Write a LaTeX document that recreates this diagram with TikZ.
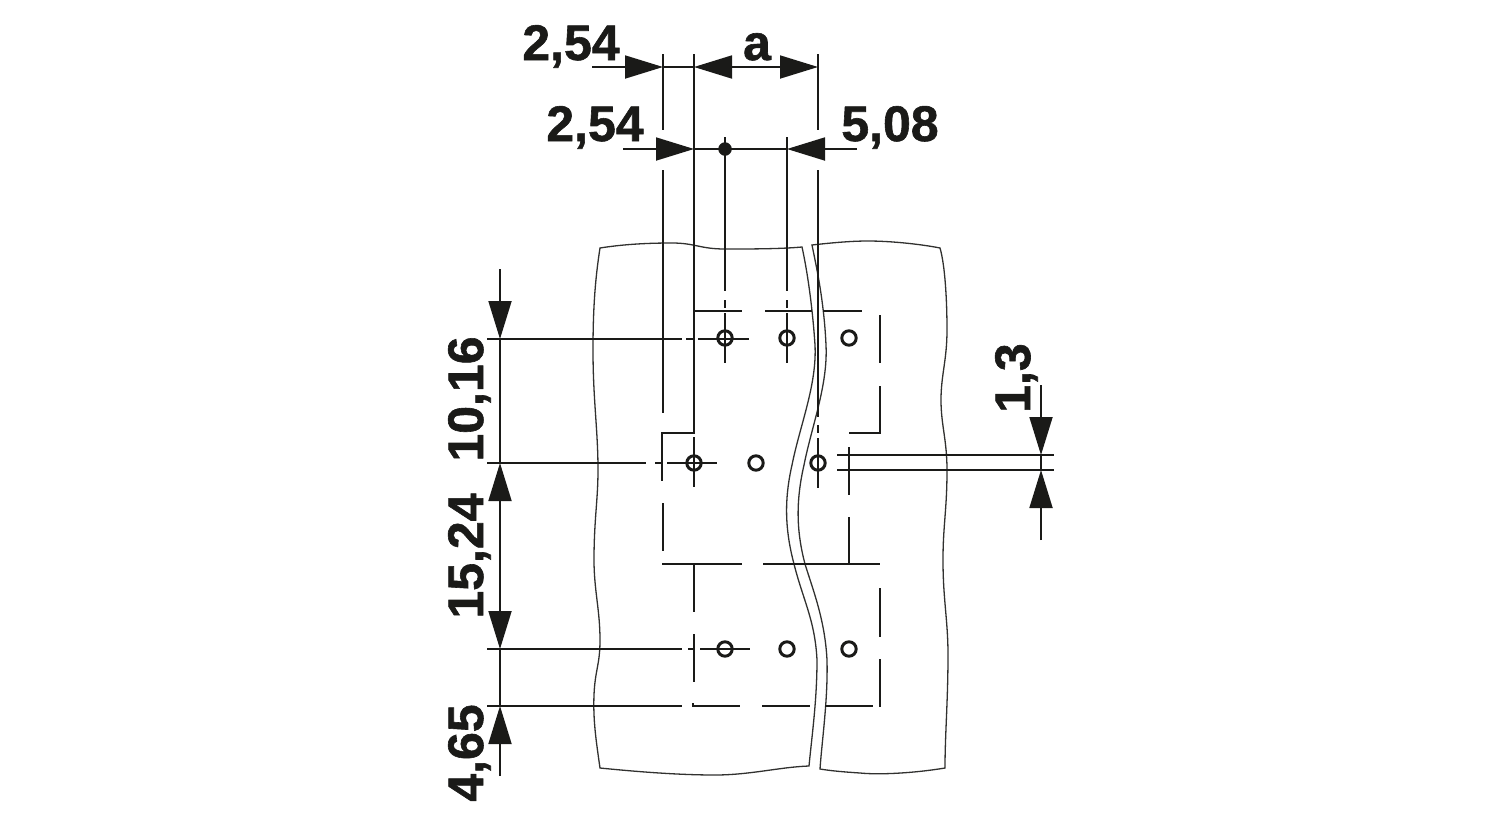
\documentclass[tikz,border=0pt]{standalone}
\usepackage{fontspec}
\setmainfont{Liberation Sans}[BoldFeatures={FakeBold=1.2}]
\usetikzlibrary{arrows.meta}
\definecolor{inkblack}{HTML}{1A1A18}
\tikzset{
	sheetline/.style={line width=1.3pt, draw=inkblack!90},
	partline/.style={line width=2.2pt, draw=inkblack},
	dimline/.style={line width=1.8pt, draw=inkblack},
	dimarrow/.style={line width=1.8pt, draw=inkblack, -{Triangle[length=38pt,width=23pt,fill=inkblack]}, shorten >=0pt},
	dimtext/.style={font=\fontsize{50}{50}\selectfont\bfseries, text=inkblack, inner sep=0pt},
	pinhole/.style={line width=3pt, draw=inkblack, fill=none}
}
\begin{document}
\begin{tikzpicture}[x=1pt,y=-1pt]
	\useasboundingbox (0,0) rectangle (1500,820);

	% sheet, left part
	\draw[sheetline] (600,248) .. controls (625,244) and (650,243) .. (672,243)
		.. controls (695,243) and (700,249) .. (725,249)
		.. controls (750,249) and (780,249) .. (802,247)
		.. controls (806,265) and (812,300) .. (815,345)
		.. controls (817,385) and (800,425) .. (792,465)
		.. controls (784,500) and (785,530) .. (794,564)
		.. controls (803,600) and (815,620) .. (817,660)
		.. controls (817,700) and (812,735) .. (809,766)
		.. controls (780,767) and (750,775) .. (715,775)
		.. controls (680,775) and (640,772) .. (600,768)
		.. controls (596,740) and (593,720) .. (594,695)
		.. controls (595,670) and (600,665) .. (600,640)
		.. controls (600,610) and (594,590) .. (594,560)
		.. controls (594,520) and (598,500) .. (598,470)
		.. controls (598,430) and (593,400) .. (593,350)
		.. controls (593,310) and (595,280) .. (600,248) -- cycle;
	% sheet, right part
	\draw[sheetline] (812,245) .. controls (830,243) and (850,241) .. (868,241)
		.. controls (890,241) and (920,244) .. (940,248)
		.. controls (945,265) and (947,300) .. (947,330)
		.. controls (947,360) and (941,375) .. (941,400)
		.. controls (941,425) and (947,440) .. (947,470)
		.. controls (947,510) and (943,525) .. (943,560)
		.. controls (943,600) and (948,620) .. (948,655)
		.. controls (948,700) and (945,735) .. (945,768)
		.. controls (915,773) and (880,775) .. (860,773)
		.. controls (845,772) and (832,771) .. (820,769)
		.. controls (822,740) and (828,700) .. (827,660)
		.. controls (825,620) and (813,590) .. (805,564)
		.. controls (796,530) and (796,500) .. (804,465)
		.. controls (812,425) and (828,385) .. (826,345)
		.. controls (824,300) and (816,265) .. (812,245) -- cycle;

	% extension lines
	\draw[dimline] (663,54) -- (663,130);
	\draw[dimline] (694,54) -- (694,311);
	\draw[dimline] (818,54) -- (818,130);
	\draw[dimline] (725,137) -- (725,291);
	\draw[dimline] (787,137) -- (787,291);
	\draw[dimline] (663,170) -- (663,413);
	\draw[dimline] (818,170) -- (818,417);
	\draw[dimline] (487,339) -- (682,339);
	\draw[dimline] (487,463) -- (646,463);
	\draw[dimline] (487,649) -- (682,649);
	\draw[dimline] (487,706) -- (682,706);
	\draw[dimline] (837,455) -- (1054,455);
	\draw[dimline] (837,470) -- (1054,470);

	% part outline and centre lines
	\draw[partline] (694,311) -- (694,433) -- (662,433) -- (662,481);
	\draw[partline] (663,503) -- (663,551);
	\draw[partline] (662,564) -- (742,564);
	\draw[partline] (763,564) -- (880,564);
	\draw[partline] (694,564) -- (694,612);
	\draw[partline] (694,634) -- (694,682);
	\draw[partline] (693,703) -- (693,706) -- (740,706);
	\draw[partline] (762,706) -- (810,706);
	\draw[partline] (825,706) -- (873,706);
	\draw[partline] (880,588) -- (880,637);
	\draw[partline] (880,659) -- (880,707);
	\draw[partline] (694,311) -- (742,311);
	\draw[partline] (765,311) -- (812,311);
	\draw[partline] (823,311) -- (862,311);
	\draw[partline] (880,315) -- (880,363);
	\draw[partline] (880,386) -- (880,433) -- (849,433);
	\draw[partline] (849,447) -- (849,495);
	\draw[partline] (849,517) -- (849,564);
	\draw[partline] (725,300) -- (725,308);
	\draw[partline] (725,313) -- (725,363);
	\draw[partline] (787,300) -- (787,308);
	\draw[partline] (787,313) -- (787,363);
	\draw[partline] (686,339) -- (693,339);
	\draw[partline] (698,339) -- (749,339);
	\draw[partline] (655,463) -- (663,463);
	\draw[partline] (667,463) -- (717,463);
	\draw[partline] (694,437) -- (694,487);
	\draw[partline] (818,425) -- (818,433);
	\draw[partline] (818,438) -- (818,488);
	\draw[partline] (688,649) -- (693,649);
	\draw[partline] (700,649) -- (750,649);

	% pins
	\foreach \px/\py in {725/338,787/338,849/338,694/463,756/463,818/463,725/649,787/649,849/649}
		\draw[pinhole] (\px,\py) circle (7.2pt);

	% dimensions on top
	\coordinate (topleft) at (592,67);
	\coordinate (topa) at (663,67);
	\coordinate (topb) at (694,67);
	\coordinate (topc) at (818,67);
	\draw[dimarrow] (topleft) -- (topa);
	\draw[dimline] (topa) -- (topb);
	\draw[dimarrow] (757,67) -- (topb);
	\draw[dimarrow] (757,67) -- (topc);
	\coordinate (secleft) at (623,149);
	\coordinate (secb) at (694,149);
	\coordinate (secd) at (787,149);
	\coordinate (secright) at (857,149);
	\draw[dimarrow] (secleft) -- (secb);
	\draw[dimline] (secb) -- (secd);
	\draw[dimarrow] (secright) -- (secd);
	\filldraw[inkblack] (725,149) circle (6.5pt);

	% dimensions on the left
	\coordinate (leftstart) at (500,269);
	\coordinate (lefta) at (500,339);
	\coordinate (leftb) at (500,463);
	\coordinate (leftc) at (500,649);
	\coordinate (leftd) at (500,706);
	\coordinate (leftend) at (500,776);
	\draw[dimarrow] (leftstart) -- (lefta);
	\draw[dimline] (lefta) -- (leftb);
	\draw[dimarrow] (500,556) -- (leftb);
	\draw[dimarrow] (500,556) -- (leftc);
	\draw[dimline] (leftc) -- (leftd);
	\draw[dimarrow] (leftend) -- (leftd);

	% dimension on the right
	\coordinate (rightstart) at (1041,385);
	\coordinate (righta) at (1041,455);
	\coordinate (rightb) at (1041,470);
	\coordinate (rightend) at (1041,540);
	\draw[dimarrow] (rightstart) -- (righta);
	\draw[dimline] (righta) -- (rightb);
	\draw[dimarrow] (rightend) -- (rightb);

	% labels
	\node[dimtext, anchor=base] (lbltop) at (571,60) {2,54};
	\node[dimtext, anchor=base] (lbla) at (757,60) {a};
	\node[dimtext, anchor=base] (lblsec) at (595,141) {2,54};
	\node[dimtext, anchor=base] (lblright) at (890,141) {5,08};
	\node[dimtext, anchor=base, rotate=90] (lblten) at (483,399) {10,16};
	\node[dimtext, anchor=base, rotate=90] (lblfifteen) at (483,556) {15,24};
	\node[dimtext, anchor=base, rotate=90] (lblfour) at (483,753) {4,65};
	\node[dimtext, anchor=base, rotate=90] (lblone) at (1030,378) {1,3};
\end{tikzpicture}
\end{document}
